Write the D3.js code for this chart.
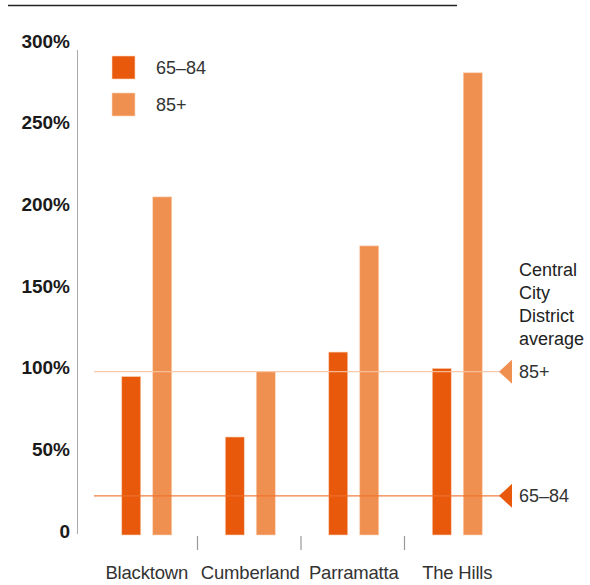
<!DOCTYPE html>
<html><head><meta charset="utf-8">
<script src="https://cdn.jsdelivr.net/npm/d3@7"></script>
<style>body{margin:0;background:#fff;} svg{display:block;font-family:"Liberation Sans",Arial,sans-serif;}</style>
</head><body>
<svg id="chart" width="590" height="585"></svg>
<script>
const categories = ["Blacktown", "Cumberland", "Parramatta", "The Hills"];
const seriesKeys = ["65–84", "85+"];
const values6584 = [97, 60, 112, 102];
const values85 = [207, 100, 177, 283];
const averages = [{key: "65–84", value: 24}, {key: "85+", value: 100}];
const yTicks = [0, 50, 100, 150, 200, 250, 300];
const yTickLabels = ["0", "50%", "100%", "150%", "200%", "250%", "300%"];
const noteLines = ["Central", "City", "District", "average"];

const colors = {"65–84": "#E8590C", "85+": "#F09050"};
const lineColors = {"65–84": "#F0702C", "85+": "#F9C4A0"};

const svg = d3.select("#chart");
const y = d3.scaleLinear().domain([0, 300]).range([535, 45]);
const x = d3.scaleBand().domain(categories).range([95, 509]);
const xs = d3.scaleBand().domain(seriesKeys).range([-25, 25]).paddingInner(0.387);

const data = categories.map((c, i) => ({cat: c, vals: [{key: seriesKeys[0], v: values6584[i]}, {key: seriesKeys[1], v: values85[i]}]}));

// top rule
svg.append("line").attr("x1", 8).attr("x2", 457).attr("y1", 5.5).attr("y2", 5.5)
  .attr("stroke", "#222").attr("stroke-width", 1.5);

// y axis line
svg.append("line").attr("x1", 77.5).attr("x2", 77.5).attr("y1", 50).attr("y2", 534)
  .attr("stroke", "#aaa").attr("stroke-width", 1);

// y tick labels
svg.append("g").selectAll("text").data(yTicks).join("text")
  .attr("x", 70).attr("y", d => y(d) - 4).attr("dy", "0.35em")
  .attr("text-anchor", "end").attr("font-size", 19).attr("font-weight", "bold")
  .attr("fill", "#1a1a1a").text((d, i) => yTickLabels[i]);

// bars
const g = svg.append("g").selectAll("g").data(data).join("g")
  .attr("transform", d => `translate(${x(d.cat) + x.bandwidth() / 2},0)`);
g.selectAll("rect").data(d => d.vals).join("rect")
  .attr("x", d => xs(d.key)).attr("width", xs.bandwidth())
  .attr("y", d => y(d.v)).attr("height", d => y(0) - y(d.v))
  .attr("fill", d => colors[d.key])
  .attr("stroke", "#fbd3b8").attr("stroke-width", 0.6);

// average lines
svg.append("g").selectAll("line").data(averages).join("line")
  .attr("x1", 94).attr("x2", 500).attr("y1", d => y(d.value)).attr("y2", d => y(d.value))
  .attr("stroke", d => lineColors[d.key]).attr("stroke-width", 1.3).attr("opacity", 0.9);

// triangles
svg.append("g").selectAll("path").data(averages).join("path")
  .attr("d", d => { const yy = y(d.value); return `M499,${yy} L512,${yy - 12} L512,${yy + 12} Z`; })
  .attr("fill", d => colors[d.key]);
svg.append("g").selectAll("text").data(averages).join("text")
  .attr("x", 519).attr("y", d => y(d.value)).attr("dy", "0.35em")
  .attr("font-size", 18).attr("fill", "#333").text(d => d.key);

// note
svg.append("g").selectAll("text").data(noteLines).join("text")
  .attr("x", 519).attr("y", (d, i) => 270 + i * 23).attr("dy", "0.35em")
  .attr("font-size", 18).attr("fill", "#222").text(d => d);

// separators
svg.append("g").selectAll("line").data(categories.slice(1)).join("line")
  .attr("x1", d => x(d) - 1).attr("x2", d => x(d) - 1).attr("y1", 536).attr("y2", 550)
  .attr("stroke", "#999").attr("stroke-width", 1.2);

// category labels
svg.append("g").selectAll("text").data(categories).join("text")
  .attr("x", d => x(d) + x.bandwidth() / 2).attr("y", 573).attr("dy", "0.35em")
  .attr("text-anchor", "middle").attr("font-size", 18.5).attr("fill", "#333")
  .attr("letter-spacing", -0.2)
  .text(d => d);

// legend
const leg = svg.append("g").selectAll("g").data(seriesKeys).join("g")
  .attr("transform", (d, i) => `translate(112,${56 + i * 37})`);
leg.append("rect").attr("width", 23).attr("height", 23).attr("fill", d => colors[d])
  .attr("stroke", "#fbd3b8").attr("stroke-width", 0.6);
leg.append("text").attr("x", 44).attr("y", 12).attr("dy", "0.35em")
  .attr("font-size", 18).attr("fill", "#333").text(d => d);
</script>
</body></html>
